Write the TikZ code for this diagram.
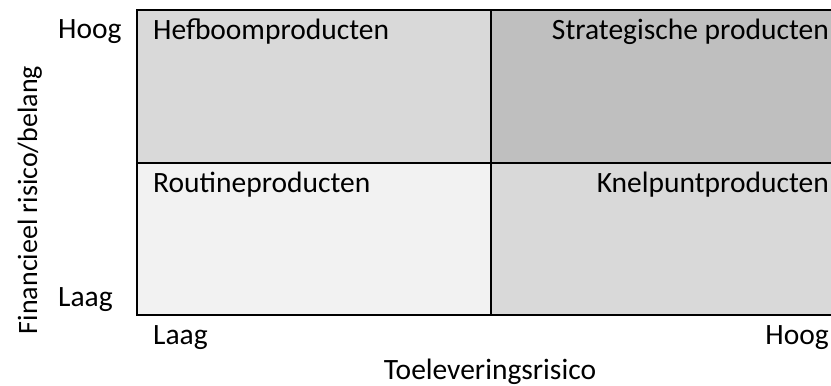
\documentclass[tikz,border=0pt]{standalone}
\usepackage{fontspec}
\setmainfont{Carlito}
\usepackage{tikz}
\usetikzlibrary{positioning}
\definecolor{lowgray}{HTML}{F2F2F2}
\definecolor{midgray}{HTML}{D9D9D9}
\definecolor{highgray}{HTML}{BFBFBF}
\tikzset{
  lbl/.style={inner sep=0pt,font=\fontsize{29.5bp}{34bp}\selectfont}
}

\begin{document}
\begin{tikzpicture}[x=1bp,y=1bp]
  \useasboundingbox (0,0) rectangle (831,385);
  \clip (0,0) rectangle (831,385);
  \fill[midgray] (137,222) rectangle (491,375);
  \fill[highgray] (491,222) rectangle (840,375);
  \fill[lowgray] (137,70) rectangle (491,222);
  \fill[midgray] (491,70) rectangle (840,222);
  \draw[line width=2bp] (840,375) -- (137,375) -- (137,70) -- (840,70);
  \draw[line width=2bp] (137,222) -- (840,222);
  \draw[line width=2bp] (491,70) -- (491,375);
  \node[lbl,anchor=base west] (hefboom) at (153,346) {Hefboomproducten};
  \node[lbl,anchor=base east] (strategisch) at (829,346) {Strategische producten};
  \node[lbl,anchor=base west] (routine) at (153,193) {Routineproducten};
  \node[lbl,anchor=base east] (knelpunt) at (829,193) {Knelpuntproducten};
  \node[lbl,anchor=base west] (yhoog) at (58,347) {Hoog};
  \node[lbl,anchor=base west] (ylaag) at (58,79) {Laag};
  \node[lbl,anchor=base west] (xlaag) at (153,41) {Laag};
  \node[lbl,anchor=base east] (xhoog) at (829,41) {Hoog};
  \node[lbl,anchor=base] (xtitel) at (490,6) {Toeleveringsrisico};
  \node[lbl,font=\fontsize{28bp}{32bp}\selectfont,anchor=base,rotate=90] (ytitel) at (37,185) {Financieel risico/belang};
\end{tikzpicture}
\end{document}
